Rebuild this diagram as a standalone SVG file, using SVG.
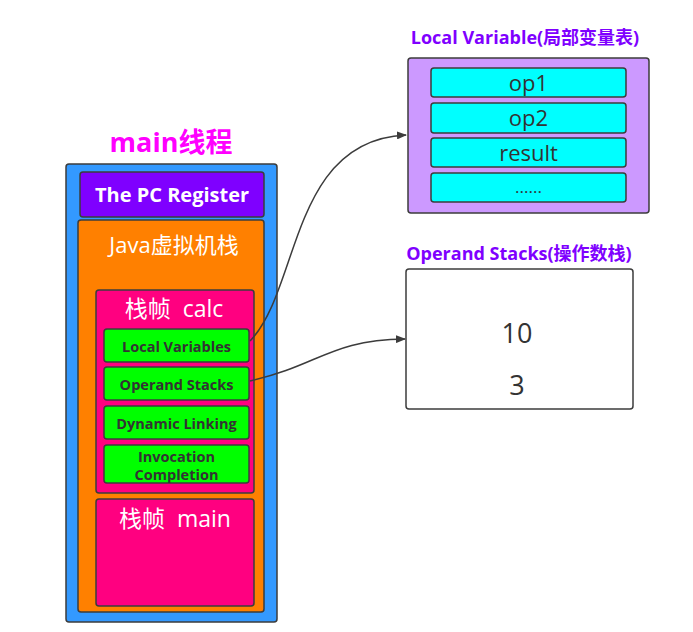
<svg xmlns="http://www.w3.org/2000/svg" width="693" height="632" viewBox="0 0 693 632">
<defs>
<style>
.t{font-family:"Open Sans","Noto Sans CJK SC","Liberation Sans",sans-serif;text-anchor:middle;dominant-baseline:central;white-space:pre}
.box{stroke:#3c3c3c;stroke-width:1.5}
.g{fill:#00ff00}
.gt{fill:#333;font-size:14.5px;font-weight:bold}
.c{fill:#00ffff}
.ct{fill:#333;font-size:22px}
.w{fill:#fff}
.edge{fill:none;stroke:#3c3c3c;stroke-width:1.5;marker-end:url(#ah)}
</style>
<marker id="ah" markerWidth="10" markerHeight="8" refX="9" refY="4" orient="auto" markerUnits="userSpaceOnUse">
<path d="M0,0 L10,4 L0,8 Z" fill="#3c3c3c"/>
</marker>
</defs>
<rect width="693" height="632" fill="#fff"/>
<g id="thread-title"><text class="t" x="171" y="141" font-size="27" font-weight="bold" fill="#ff00ff">main线程</text></g>
<g id="thread"><rect class="box" x="66" y="164" width="211" height="458" rx="3" fill="#3399ff"/></g>
<g id="pc-register"><rect class="box" x="80" y="172" width="184" height="45" rx="3" fill="#7f00ff"/><text class="t w" x="172" y="194" font-size="20" font-weight="bold">The PC Register</text></g>
<g id="jvm-stack"><rect class="box" x="78" y="220" width="186" height="392" rx="3" fill="#ff8000"/><text class="t w" x="174" y="244" font-size="22">Java虚拟机栈</text></g>
<g id="frame-calc"><rect class="box" x="96" y="290" width="158" height="203" rx="3" fill="#ff0080"/><text class="t w" x="174" y="308" font-size="23" xml:space="preserve">栈帧  calc</text></g>
<g id="local-variables"><rect class="box g" x="104" y="329" width="145" height="33" rx="3"/><text class="t gt" x="176.5" y="346">Local Variables</text></g>
<g id="operand-stacks"><rect class="box g" x="104" y="367" width="145" height="33" rx="3"/><text class="t gt" x="176.5" y="384">Operand Stacks</text></g>
<g id="dynamic-linking"><rect class="box g" x="104" y="406" width="145" height="33" rx="3"/><text class="t gt" x="176.5" y="423">Dynamic Linking</text></g>
<g id="invocation-completion"><rect class="box g" x="104" y="445" width="145" height="38" rx="3"/><text class="t gt" x="176.5" y="456">Invocation</text><text class="t gt" x="176.5" y="474">Completion</text></g>
<g id="frame-main"><rect class="box" x="96" y="499" width="158" height="107" rx="3" fill="#ff0080"/><text class="t w" x="175" y="518" font-size="23" xml:space="preserve">栈帧  main</text></g>
<g id="lv-title"><text class="t" x="525" y="37" font-size="18" font-weight="bold" fill="#7f00ff">Local Variable(局部变量表)</text></g>
<g id="lv-table"><rect class="box" x="408" y="58" width="241" height="155" rx="3" fill="#cc99ff"/>
<rect class="box c" x="431" y="68" width="195" height="29" rx="3"/><text class="t ct" x="528.5" y="82">op1</text>
<rect class="box c" x="431" y="103" width="195" height="30" rx="3"/><text class="t ct" x="528.5" y="117">op2</text>
<rect class="box c" x="431" y="138" width="195" height="29" rx="3"/><text class="t ct" x="528.5" y="152">result</text>
<rect class="box c" x="431" y="173" width="195" height="29" rx="3"/><text class="t" x="528.5" y="186" font-size="17" fill="#333">......</text></g>
<g id="os-title"><text class="t" x="519" y="253" font-size="18" font-weight="bold" fill="#7f00ff">Operand Stacks(操作数栈)</text></g>
<g id="os-box"><rect class="box" x="406" y="269" width="227" height="140" rx="3" fill="#fff"/><text class="t" x="517" y="332" font-size="27" fill="#333">10</text><text class="t" x="517" y="384" font-size="27" fill="#333">3</text></g>
<g id="connectors">
<path class="edge" d="M250,341 C300,290 290,140 406,135"/>
<path class="edge" d="M250,381 C320,365 330,340 405,339"/>
</g>
</svg>
